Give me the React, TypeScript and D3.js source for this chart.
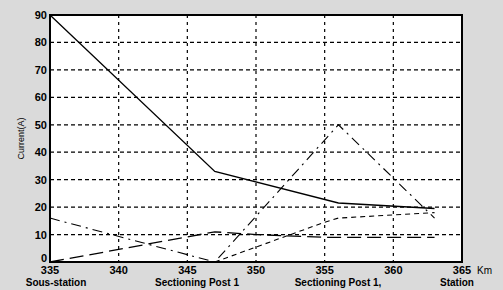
import * as d3 from "d3";

// distance along the line (km) and current (A) per curve
const solidKm = [335, 347, 356, 363];
const solidA = [90, 33, 21.5, 19.5];
const longDashKm = [335, 347, 350, 355, 363];
const longDashA = [0, 11, 10, 9, 9];
const dashDotKm = [335, 347, 356, 363];
const dashDotA = [16, 0, 50, 16];
const shortDashKm = [347, 355, 356, 363];
const shortDashA = [0, 14.5, 16, 18];

const xTicks = [335, 340, 345, 350, 355, 360, 365];
const yTicks = [0, 10, 20, 30, 40, 50, 60, 70, 80, 90];
const stations = ["Sous-station", "Sectioning Post 1", "Sectioning Post 1,", "Station"];
const stationX = [56, 197, 338, 457];

const W = 503;
const H = 290;
const left = 50, right = 462, top = 15, bottom = 262;

export default function App() {
  const x = d3.scaleLinear().domain([335, 365]).range([left, right]);
  const y = d3.scaleLinear().domain([0, 90]).range([bottom, top]);
  const line = d3.line<[number, number]>().x(d => x(d[0])).y(d => y(d[1]));
  const mk = (km: number[], a: number[]) => line(km.map((k, i) => [k, a[i]] as [number, number])) || "";

  const series = [
    { d: mk(solidKm, solidA), dash: "none", w: 1.3 },
    { d: mk(longDashKm, longDashA), dash: "14,6", w: 1.3 },
    { d: mk(dashDotKm, dashDotA), dash: "10,5,2,5", w: 1.1 },
    { d: mk(shortDashKm, shortDashA), dash: "5,4", w: 1.1 },
  ];
  const font = "'Liberation Sans', Arial, sans-serif";

  return (
    <svg width={W} height={H} style={{ position: "absolute", left: 0, top: 0 }}>
      <rect x={0} y={0} width={W} height={H} fill="#dadada" />
      <rect x={left} y={top} width={right - left} height={bottom - top} fill="#fff" />
      {xTicks.slice(1, -1).map(t => (
        <line key={"gx" + t} x1={x(t)} x2={x(t)} y1={top} y2={bottom} stroke="#000" strokeWidth={1.2} strokeDasharray="3,4" />
      ))}
      {yTicks.slice(1, -1).map(t => (
        <line key={"gy" + t} x1={left} x2={right} y1={y(t)} y2={y(t)} stroke="#000" strokeWidth={1.2} strokeDasharray="4,3" />
      ))}
      {series.map((s, i) => (
        <path key={i} d={s.d} fill="none" stroke="#000" strokeWidth={s.w} strokeDasharray={s.dash} />
      ))}
      <rect x={left} y={top} width={right - left} height={bottom - top} fill="none" stroke="#000" strokeWidth={2} />
      {yTicks.map(t => (
        <text key={"ty" + t} x={left - 3} y={t === 0 ? y(t) : y(t) + 4} textAnchor="end" fontFamily={font} fontWeight="bold" fontSize={11}>{t}</text>
      ))}
      {xTicks.map(t => (
        <text key={"tx" + t} x={x(t)} y={274} textAnchor="middle" fontFamily={font} fontWeight="bold" fontSize={11}>{t}</text>
      ))}
      <text x={477} y={274} fontFamily={font} fontSize={10}>Km</text>
      <text transform={`translate(24,${(top + bottom) / 2}) rotate(-90)`} textAnchor="middle" fontFamily={font} fontSize={9}>Current(A)</text>
      {stations.map((s, i) => (
        <text key={s + i} x={stationX[i]} y={286} textAnchor="middle" fontFamily={font} fontWeight="bold" fontSize={10}>{s}</text>
      ))}
    </svg>
  );
}
